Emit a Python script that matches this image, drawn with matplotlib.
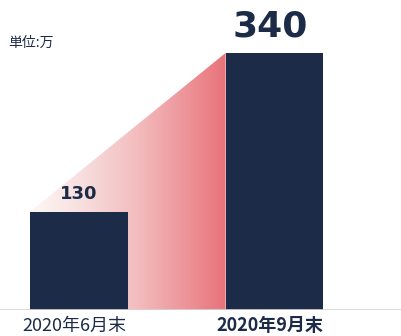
import numpy as np
import matplotlib.pyplot as plt
from matplotlib.colors import LinearSegmentedColormap
from matplotlib.patches import Polygon

plt.rcParams['font.family'] = ['Noto Sans CJK JP', 'DejaVu Sans']

categories = ['2020年6月末', '2020年9月末']
values = [130, 340]
unit_label = '単位:万'

navy = '#1c2b47'
bar_w = 0.5

fig = plt.figure(figsize=(4.01, 3.36), dpi=100)
ax = fig.add_axes([0, 26 / 336, 1, 310 / 336])
ax.set_xlim(-0.404, 1.647)
ax.set_ylim(0, 410)
ax.axis('off')

x = np.arange(len(values))

# gradient wedge joining the two bar tops
left = x[0] - bar_w / 2
right = x[1] - bar_w / 2
grad = np.linspace(0, 1, 256).reshape(1, -1)
cmap = LinearSegmentedColormap.from_list(
    'wedge', [(0, '#fcf8f3'), (0.25, '#f8e0e0'), (0.55, '#f3bcbe'), (1, '#e8737a')])
img = ax.imshow(grad, cmap=cmap, aspect='auto', extent=[left, right, 0, values[1]],
                zorder=1, interpolation='bicubic')
wedge = Polygon([(left, 0), (left, values[0]), (right, values[1]), (right, 0)],
                closed=True, transform=ax.transData)
img.set_clip_path(wedge)

ax.bar(x, values, width=bar_w, color=navy, zorder=2)

# baseline
ax.axhline(0, color='#d4d4d4', lw=1.2, zorder=3)

ax.text(x[0], values[0] + 12, str(values[0]), ha='center', va='bottom',
        fontsize=13, fontweight='bold', color=navy, family='DejaVu Sans')
ax.text(x[1] - 0.02, values[1] + 12, str(values[1]), ha='center', va='bottom',
        fontsize=26, fontweight='bold', color=navy, family='DejaVu Sans')

fig.text(8 / 401, 1 - 43 / 336, unit_label, ha='left', va='center', fontsize=10,
         color=navy)

for xi, lab, w in zip(x, categories, ['normal', 'bold']):
    ax.text(xi - 0.025, -21, lab, ha='center', va='center', fontsize=13, fontweight=w,
            color=navy, clip_on=False)

fig.savefig('out.png', dpi=100)
